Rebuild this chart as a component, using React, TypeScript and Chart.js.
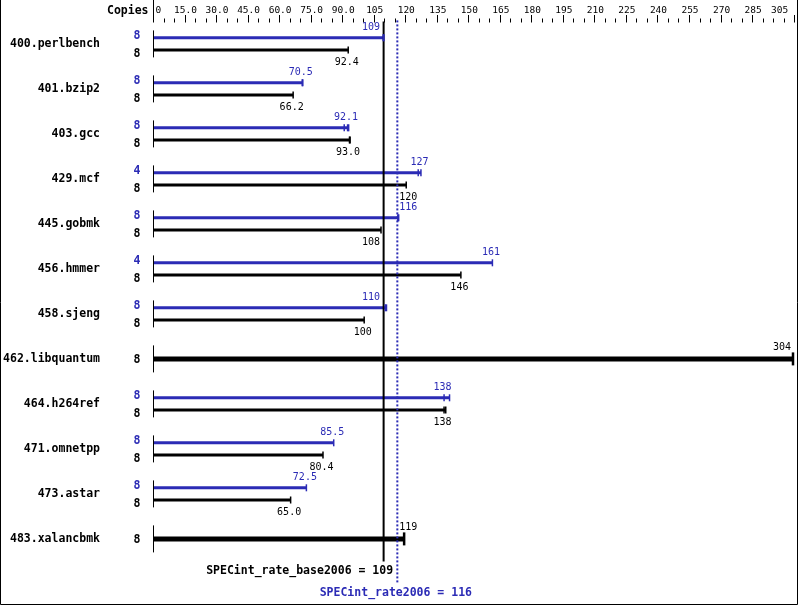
import React, { useEffect, useRef } from "react";
import { Chart, registerables } from "chart.js";

Chart.register(...registerables);

const BLUE = "#2b2bb5";
const MONO = '"DejaVu Sans Mono", "Liberation Mono", monospace';

const benchmarks = [
  "400.perlbench",
  "401.bzip2",
  "403.gcc",
  "429.mcf",
  "445.gobmk",
  "456.hmmer",
  "458.sjeng",
  "462.libquantum",
  "464.h264ref",
  "471.omnetpp",
  "473.astar",
  "483.xalancbmk",
];

// SPECint_rate2006 (peak, blue) medians
const peakValues = [109, 70.5, 92.1, 127, 116, 161, 110, null, 138, 85.5, 72.5, null];
// SPECint_rate_base2006 (base, black) medians
const baseValues = [92.4, 66.2, 93.0, 120, 108, 146, 100, null, 138, 80.4, 65.0, null];
// benchmarks where base and peak are identical (one thick bar)
const singleValues = [null, null, null, null, null, null, null, 304, null, null, null, 119];

// other run results (extra tick marks)
const peakExtraRuns = [[109.4], [70.8], [90.5, 92.6], [125.7], [116.4], [], [110.6], [], [140.6], [], [], []];
const baseExtraRuns = [[], [], [93.3], [], [], [], [], [], [138.8], [], [], []];

const peakCopies = [8, 8, 8, 4, 8, 4, 8, null, 8, 8, 8, null];
const baseCopies = [8, 8, 8, 8, 8, 8, 8, 8, 8, 8, 8, 8];

const rulerLabels = [0, 15, 30, 45, 60, 75, 90, 105, 120, 135, 150, 165, 180, 195, 210, 225, 240, 255, 270, 285, 305];
const rulerMax = 305;
const rulerMinorStep = 5;

const baseMetric = 109;
const peakMetric = 116;
const baseMetricLabel = "SPECint_rate_base2006 = 109";
const peakMetricLabel = "SPECint_rate2006 = 116";

function fmt(v: number): string {
  if (v === 0) return "0";
  return v >= 100 ? v.toFixed(0) : v.toFixed(1);
}

const specPlugin = {
  id: "specDecor",
  beforeDraw(chart: any) {
    const { ctx, width, height } = chart;
    ctx.save();
    ctx.fillStyle = "#fff";
    ctx.fillRect(0, 0, width, height);
    ctx.restore();
  },
  afterDatasetsDraw(chart: any) {
    const ctx = chart.ctx;
    const xs = chart.scales.x;
    const ys = chart.scales.y;
    const area = chart.chartArea;
    const baseX = xs.getPixelForValue(baseMetric);
    const peakX = xs.getPixelForValue(peakMetric);
    ctx.save();

    // ruler
    ctx.strokeStyle = "#000";
    ctx.lineWidth = 1;
    for (let v = 0; v <= rulerMax; v += rulerMinorStep) {
      const px = Math.round(xs.getPixelForValue(v)) - 0.5;
      const major = rulerLabels.indexOf(v) >= 0;
      ctx.beginPath();
      ctx.moveTo(px, v === 0 ? 0 : major ? 15 : 18.5);
      ctx.lineTo(px, 22.5);
      ctx.stroke();
    }
    ctx.fillStyle = "#000";
    ctx.font = `9.5px ${MONO}`;
    ctx.textBaseline = "alphabetic";
    ctx.textAlign = "left";
    for (const v of rulerLabels) {
      const t = fmt(v);
      const w = ctx.measureText(t).width;
      let l = xs.getPixelForValue(v) - w / 2;
      if (l < area.left + 1.5) l = area.left + 1.5;
      if (l + w > area.right - 7) l = area.right - 7 - w;
      ctx.fillText(t, l, 13);
    }

    // header
    ctx.font = `bold 11.5px ${MONO}`;
    ctx.textAlign = "right";
    ctx.fillText("Copies", 148.5, 13.5);

    // copies & group markers
    for (let i = 0; i < benchmarks.length; i++) {
      const c = ys.getPixelForValue(i);
      ctx.font = `bold 11.5px ${MONO}`;
      ctx.textAlign = "right";
      if (peakCopies[i] != null) {
        ctx.fillStyle = BLUE;
        ctx.fillText(String(peakCopies[i]), 140.5, c - 9.3 + 4.2);
        ctx.fillStyle = "#000";
        ctx.fillText(String(baseCopies[i]), 140.5, c + 9.2 + 4.2);
      } else {
        ctx.fillStyle = "#000";
        ctx.fillText(String(baseCopies[i]), 140.5, c + 4.2);
      }
      ctx.strokeStyle = "#000";
      ctx.lineWidth = 1;
      ctx.beginPath();
      ctx.moveTo(area.left - 0.5, c - 13.5);
      ctx.lineTo(area.left - 0.5, c + 13.5);
      ctx.stroke();
    }

    // metric lines
    ctx.strokeStyle = "#000";
    ctx.lineWidth = 2;
    ctx.beginPath();
    ctx.moveTo(baseX + 0.5, area.top);
    ctx.lineTo(baseX + 0.5, area.bottom);
    ctx.stroke();
    ctx.strokeStyle = BLUE;
    ctx.setLineDash([2, 2]);
    ctx.beginPath();
    ctx.moveTo(peakX - 0.5, area.top - 1);
    ctx.lineTo(peakX - 0.5, 583);
    ctx.stroke();
    ctx.setLineDash([]);

    // caps and labels
    const placeLabel = (text: string, endX: number, value: number) => {
      const w = ctx.measureText(text).width;
      let l = endX - 1.5 - w / 2;
      const r = l + w;
      if (r > baseX - 2 && l < peakX + 1) {
        if (value < (baseMetric + peakMetric) / 2) l = baseX - 3 - w;
        else l = peakX + 1.5;
      }
      if (l + w > area.right - 4) l = area.right - 4 - w;
      return l;
    };
    const series = [
      { values: peakValues, extras: peakExtraRuns, color: BLUE, capH: 7, capW: 1.5, dy: -7.4 },
      { values: baseValues, extras: baseExtraRuns, color: "#000", capH: 7, capW: 1.5, dy: 14.6 },
      { values: singleValues, extras: null, color: "#000", capH: 13, capW: 2.5, dy: -8.9 },
    ];
    series.forEach((s, d) => {
      const meta = chart.getDatasetMeta(d);
      s.values.forEach((v, i) => {
        if (v == null) return;
        const el = meta.data[i];
        const y = el.y;
        const runs = [v, ...(s.extras ? s.extras[i] : [])];
        ctx.strokeStyle = s.color;
        ctx.lineWidth = s.capW;
        for (const r of runs) {
          const px = xs.getPixelForValue(r);
          ctx.beginPath();
          ctx.moveTo(px, y - s.capH / 2);
          ctx.lineTo(px, y + s.capH / 2);
          ctx.stroke();
        }
        ctx.font = `10px ${MONO}`;
        ctx.textAlign = "left";
        ctx.fillStyle = s.color;
        const t = fmt(v);
        const l = placeLabel(t, xs.getPixelForValue(v), v);
        ctx.fillText(t, l, y + s.dy);
      });
    });

    // metric texts
    ctx.font = `bold 11.5px ${MONO}`;
    ctx.textAlign = "right";
    ctx.fillStyle = "#000";
    ctx.fillText(baseMetricLabel, baseX + 10, 573.5);
    ctx.textAlign = "center";
    ctx.fillStyle = BLUE;
    ctx.fillText(peakMetricLabel, peakX - 2, 596);

    // frame
    ctx.strokeStyle = "#000";
    ctx.lineWidth = 1;
    ctx.beginPath();
    ctx.moveTo(0.5, 0);
    ctx.lineTo(0.5, 604.5);
    ctx.lineTo(797.5, 604.5);
    ctx.lineTo(797.5, 0);
    ctx.stroke();

    ctx.restore();
  },
};

export default function App() {
  const ref = useRef<HTMLCanvasElement>(null);
  useEffect(() => {
    const canvas = ref.current;
    if (!canvas) return;
    const withRuns = (vals: (number | null)[], extras: number[][]) =>
      vals.map((v, i) => (v == null ? null : Math.max(v, ...extras[i])));
    const common = {
      borderWidth: 0,
      skipNull: true,
      categoryPercentage: 0.5422,
      barPercentage: 0.9,
    };
    const chart = new Chart(canvas, {
      type: "bar",
      data: {
        labels: benchmarks,
        datasets: [
          { ...common, label: "peak", data: withRuns(peakValues, peakExtraRuns), backgroundColor: BLUE, maxBarThickness: 3 },
          { ...common, label: "base", data: withRuns(baseValues, baseExtraRuns), backgroundColor: "#000", maxBarThickness: 3 },
          { ...common, label: "single", data: singleValues, backgroundColor: "#000", maxBarThickness: 5, grouped: false },
        ] as any,
      },
      options: {
        indexAxis: "y",
        responsive: false,
        animation: false,
        devicePixelRatio: 1,
        events: [],
        layout: { padding: { top: 21.4, bottom: 44.6, right: 3.9, left: 0 } },
        plugins: { legend: { display: false }, tooltip: { enabled: false } },
        scales: {
          x: { type: "linear", display: false, min: 0, max: rulerMax },
          y: {
            type: "category",
            offset: true,
            grid: { display: false, drawTicks: true, tickLength: 44 },
            border: { display: false },
            ticks: {
              color: "#000",
              font: { family: MONO, size: 11.5, weight: "bold" },
              padding: 10,
              autoSkip: false,
            },
            afterFit: (s: any) => {
              s.width = 154;
            },
          },
        },
      } as any,
      plugins: [specPlugin],
    });
    return () => chart.destroy();
  }, []);
  return (
    <div style={{ position: "fixed", left: 0, top: 0, width: 799, height: 606, background: "#fff" }}>
      <canvas ref={ref} width={799} height={606} style={{ display: "block" }} />
    </div>
  );
}
